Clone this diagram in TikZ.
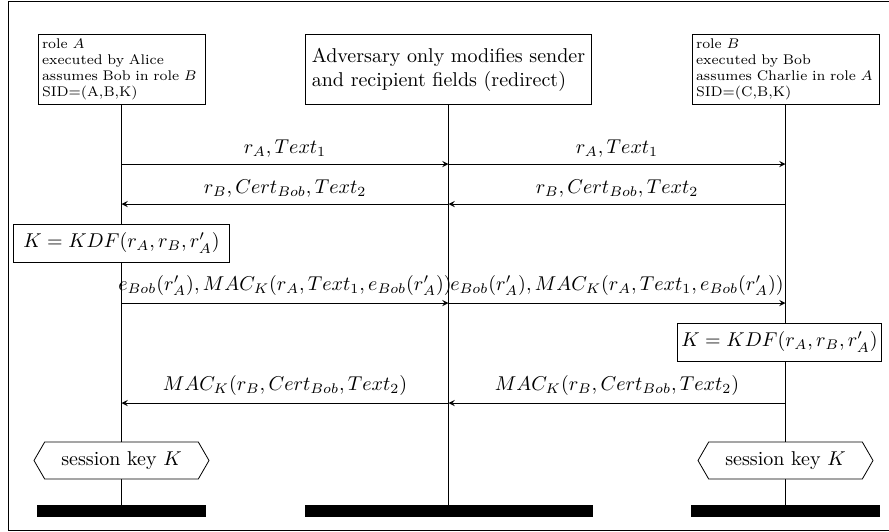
\documentclass[tikz,border=0pt]{standalone}
\usepackage{amsmath}
\usetikzlibrary{shapes.symbols}

\begin{document}
\begin{tikzpicture}[x=0.5pt,y=-0.5pt,
  inst/.style={draw, align=left, font=\scriptsize, inner sep=2pt, minimum height=35pt, anchor=north},
  advbox/.style={draw, align=left, inner sep=3pt, minimum height=35pt, anchor=north},
  endbar/.style={fill=black, inner sep=0pt, minimum height=6pt},
  kbox/.style={draw, fill=white, minimum height=19pt},
  sesskey/.style={draw, fill=white, signal, signal to=west and east, signal pointer angle=120,
    minimum width=87.5pt, minimum height=18.5pt},
  msg/.style={-stealth}]
\useasboundingbox (0,0) rectangle (889,531);
%% Frame
\draw (8,1) rectangle (896,530);
%% Instances
\node[inst, text width=79.5pt] (roleA) at (121.5,34) {role $A$\\executed by Alice\\assumes Bob in role $B$\\SID=(A,B,K)};
\node[advbox] (adv) at (448.5,34) {Adversary only modifies sender\\and recipient fields (redirect)};
\node[inst, text width=89.5pt] (roleB) at (785.5,34) {role $B$\\executed by Bob\\assumes Charlie in role $A$\\SID=(C,B,K)};
%% Instance ends
\node[endbar, minimum width=84.5pt, anchor=north] (endA) at (roleA |- 0,505) {};
\node[endbar, minimum width=144pt, anchor=north] (endM) at (adv |- 0,505) {};
\node[endbar, minimum width=94.5pt, anchor=north] (endB) at (roleB |- 0,505) {};
%% Lifelines
\draw (roleA) -- (endA);
\draw (adv) -- (endM);
\draw (roleB) -- (endB);
%% Messages
\coordinate (m1) at (0,164);
\coordinate (m2) at (0,204);
\coordinate (m3) at (0,303);
\coordinate (m4) at (0,403);
\draw[msg] (roleA |- m1) -- node[above]{$r_A, Text_1$} (adv |- m1);
\draw[msg] (adv |- m1) -- node[above]{$r_A, Text_1$} (roleB |- m1);
\draw[msg] (roleB |- m2) -- node[above]{$r_B, Cert_{Bob}, Text_2$} (adv |- m2);
\draw[msg] (adv |- m2) -- node[above]{$r_B, Cert_{Bob}, Text_2$} (roleA |- m2);
\draw[msg] (roleA |- m3) -- node[above]{$e_{Bob}(r'_A), MAC_K(r_A, Text_1, e_{Bob}(r'_A))$} (adv |- m3);
\draw[msg] (adv |- m3) -- node[above]{$e_{Bob}(r'_A), MAC_K(r_A, Text_1, e_{Bob}(r'_A))$} (roleB |- m3);
\draw[msg] (roleB |- m4) -- node[above]{$MAC_K(r_B, Cert_{Bob}, Text_2)$} (adv |- m4);
\draw[msg] (adv |- m4) -- node[above]{$MAC_K(r_B, Cert_{Bob}, Text_2)$} (roleA |- m4);
%% Key derivation
\node[kbox, inner xsep=5pt] (kdfA) at (roleA |- 0,243) {$K = KDF(r_A, r_B, r'_A)$};
\node[kbox, inner xsep=2pt] (kdfB) at (779.5,342) {$K = KDF(r_A, r_B, r'_A)$};
%% Session keys
\node[sesskey] (keyA) at (roleA |- 0,460.5) {session key $K$};
\node[sesskey] (keyB) at (roleB |- 0,460.5) {session key $K$};
\end{tikzpicture}
\end{document}
